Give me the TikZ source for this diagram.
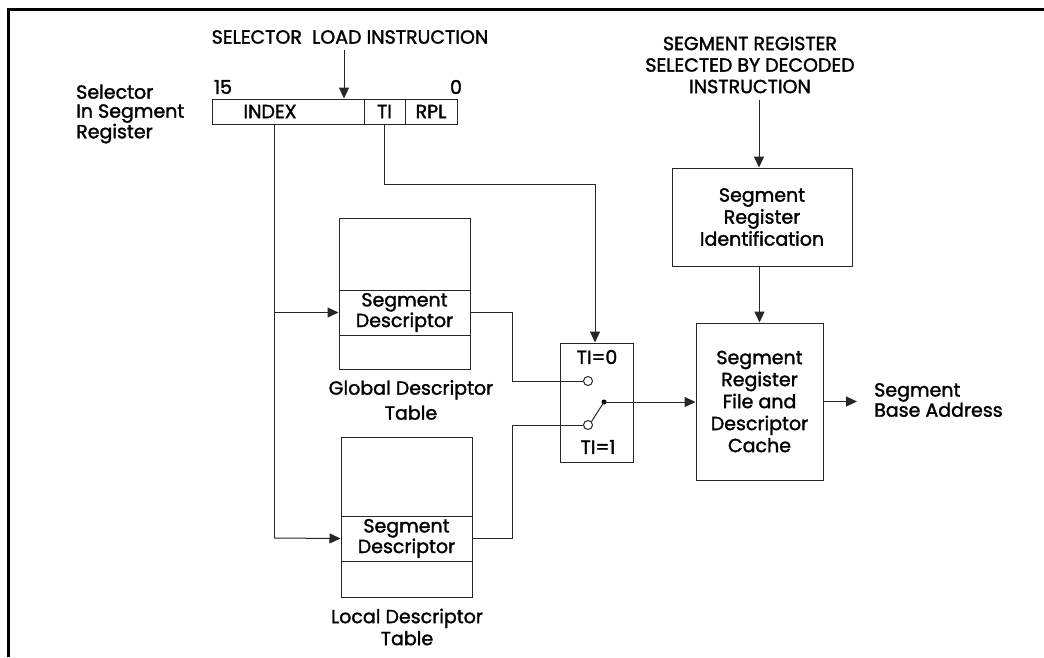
\documentclass[tikz,border=0pt]{standalone}
\usepackage{fontspec}
\setmainfont{Poppins}
\newfontfamily\heavy[FakeBold=1.6]{Poppins}
\usetikzlibrary{arrows.meta}
\begin{document}
\begin{tikzpicture}[x=1pt,y=-1pt,
  txt/.style={font=\heavy\fontsize{19}{22}\selectfont, inner sep=0pt, align=center},
  tight/.style={font=\heavy\fontsize{19}{19}\selectfont},
  cell/.style={draw=black!85, line width=1pt, inner sep=0pt},
  conn/.style={draw=black!85, line width=1pt},
  arr/.style={conn, -{Triangle[length=11pt,width=10pt]}},
  frame/.style={draw=black, line width=3pt},
  port/.style={circle, draw=black!85, line width=1pt, fill=white, inner sep=0pt, minimum size=9pt},
  joint/.style={circle, fill=black, inner sep=0pt, minimum size=5pt}]
\useasboundingbox (0,0) rectangle (1044,657);
% frame
\coordinate (fTL) at (8,9);
\coordinate (fTR) at (1044,9);
\coordinate (fBL) at (8,657);
\draw[frame] (fBL) -- (fTL) -- (fTR);

% selector register
\node[cell, minimum width=152pt, minimum height=25pt] (idx) at (288,111.5) {};
\node[txt] (idxlbl) at (270,111.5) {INDEX};
\node[cell, minimum width=41pt, minimum height=25pt, txt] (ti) at (384.5,111.5) {TI};
\node[cell, minimum width=52pt, minimum height=25pt, txt] (rpl) at (431,111.5) {RPL};
\node[txt] (b15) at (223,87) {15};
\node[txt] (b0) at (456,87) {0};
\node[txt] (sellbl) at (350,37) {SELECTOR\ \ LOAD INSTRUCTION};
\node[txt, tight, anchor=west, align=left] (regsel) at (76,114) {Selector\\In Segment\\Register};
\coordinate (selin) at (344,50);
\draw[arr] (selin) -- (selin |- idx.north);

% global descriptor table
\node[cell, minimum width=131pt, minimum height=72pt] (gdttop) at (404.5,254) {};
\node[cell, minimum width=131pt, minimum height=45pt, txt, tight] (gdtsd) at (404.5,312.5) {Segment\\Descriptor};
\node[cell, minimum width=131pt, minimum height=34pt] (gdtbot) at (404.5,352) {};
\node[txt, font=\heavy\fontsize{19}{25}\selectfont] (gdtlbl) at (411,400) {Global Descriptor\\Table};

% local descriptor table
\node[cell, minimum width=131pt, minimum height=79pt] (ldttop) at (406.5,476.5) {};
\node[cell, minimum width=131pt, minimum height=45pt, txt, tight] (ldtsd) at (406.5,538.5) {Segment\\Descriptor};
\node[cell, minimum width=131pt, minimum height=36pt] (ldtbot) at (406.5,579) {};
\node[txt] (ldtlbl) at (407,627) {Local Descriptor\\Table};

% index path
\coordinate (idxdown) at (274,538);
\coordinate (idxg) at (274,312.5);
\draw[conn] (idx.south -| idxdown) -- (idxdown);
\draw[arr] (idxdown) -- (ldtsd.west);
\draw[arr] (idxg) -- (gdtsd.west);

% switch
\node[cell, minimum width=73pt, minimum height=119pt] (sw) at (596.5,402.5) {};
\node[txt] (ti0) at (597,357) {TI=0};
\node[txt] (ti1) at (598,447) {TI=1};
\node[port] (c0) at (588,381) {};
\node[port] (c1) at (588,425) {};
\node[joint] (dot) at (604,402) {};
\draw[conn] (c1.north east) -- (dot.center);

% TI path
\coordinate (titurn) at (595,184);
\draw[arr] (ti.south) |- (titurn) -- (titurn |- sw.north);

% table outputs
\coordinate (gj) at (512,0);
\draw[conn] (gdtsd.east) -| (gj |- c0) -- (c0.west);
\draw[conn] (ldtsd.east) -| (gj |- c1) -- (c1.west);

% segment register identification
\node[cell, minimum width=180pt, minimum height=98pt, txt] (segid) at (762,217) {Segment\\Register\\Identification};
\node[txt, font=\heavy\fontsize{19}{21.5}\selectfont] (declbl) at (750,65) {SEGMENT REGISTER\\SELECTED BY DECODED\\INSTRUCTION};
\coordinate (segtop) at (759,100);
\draw[arr] (segtop) -- (segtop |- segid.north);

% cache
\node[cell, minimum width=127pt, minimum height=157pt, txt] (cache) at (759.5,401.5) {Segment\\Register\\File and\\Descriptor\\Cache};
\draw[arr] (cache.north |- segid.south) -- (cache.north);
\draw[arr] (dot.center) -- (dot -| cache.west);
\coordinate (baseout) at (857,401.5);
\draw[arr] (cache.east) -- (baseout);
\node[txt, tight, anchor=west, align=left] (baselbl) at (874,400) {Segment\\Base Address};
\end{tikzpicture}
\end{document}
